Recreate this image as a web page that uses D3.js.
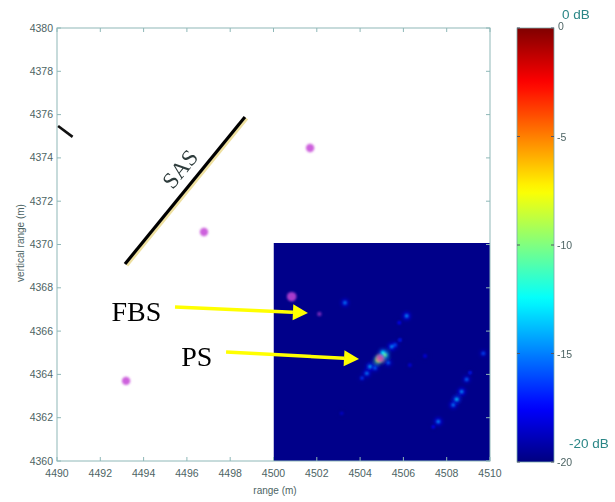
<!DOCTYPE html>
<html><head><meta charset="utf-8">
<script src="https://cdn.jsdelivr.net/npm/d3@7"></script>
<style>body{margin:0;background:#fff}svg{display:block}</style>
</head><body>
<svg id="c" width="615" height="502"></svg>
<script>
// ---- data ----
const xTicks = [4490,4492,4494,4496,4498,4500,4502,4504,4506,4508,4510];
const yTicks = [4360,4362,4364,4366,4368,4370,4372,4374,4376,4378,4380];
const cbTicks = [0,-5,-10,-15,-20];
const imageExtentX = [4500,4510];
const imageExtentY = [4360,4370.07];
const backgroundDb = -19.8;
// bright scatterers in the image (range, vertical range, level dB)
const spotX  = [4503.30,4506.15,4505.81,4505.84,4505.46,4504.92,4505.15,4504.46,4504.31,4505.30,4506.30,4507.00,4509.69,4509.08,4508.92,4508.69,4508.46,4508.30,4507.61,4507.38,4503.15,4504.69,4505.61,4504.09,4504.83,4505.05];
const spotY  = [4367.31,4366.70,4366.39,4365.59,4365.28,4364.74,4364.90,4364.36,4364.05,4364.54,4364.43,4364.85,4364.97,4364.08,4363.77,4363.20,4362.85,4362.59,4361.82,4361.58,4362.20,4364.30,4365.36,4363.83,4364.66,4365.00];
const spotDb = [-15,-14.5,-17.5,-17,-14.5,-4,-10,-14,-15,-15.5,-18,-18,-16,-17,-15.5,-14.5,-13.5,-15,-14.5,-17.5,-18.5,-15.5,-16,-16.5,-8,-12.5];
// magenta markers
const markX = [4493.19,4496.79,4501.69,4500.84,4502.12,4504.92];
const markY = [4363.70,4370.58,4374.46,4367.59,4366.79,4364.74];
const markR = [4.2,4.2,4.2,4.8,2.2,3.8];
// SAS array line and small segment
const sasLine = [[4493.14,4369.10],[4498.68,4375.89]];
const smallSeg = [[4490.05,4375.47],[4490.72,4374.97]];
// annotations
const labels = ["FBS","PS"];
const labelX = [4492.52,4495.74];
const labelY = [4366.45,4364.40];
const arrowFrom = [[4495.45,4367.11],[4497.81,4365.03]];
const arrowTo   = [[4501.59,4366.84],[4503.95,4364.71]];

// ---- scales ----
const svg = d3.select("#c");
const x = d3.scaleLinear().domain([4490,4510]).range([57,490]);
const y = d3.scaleLinear().domain([4360,4380]).range([461,28]);
const cb = d3.scaleLinear().domain([-20,0]).range([462,28]);
const clamp = v => Math.max(0, Math.min(1, v));
const jet = t => d3.rgb(255*clamp(1.5-Math.abs(4*t-3)),255*clamp(1.5-Math.abs(4*t-2)),255*clamp(1.5-Math.abs(4*t-1))).toString();
const color = d3.scaleSequential(jet).domain([-20,0]);

const defs = svg.append("defs");
const blur = defs.append("filter").attr("id","blur").attr("x","-100%").attr("y","-100%").attr("width","300%").attr("height","300%");
blur.append("feGaussianBlur").attr("stdDeviation",1.8);
const blur2 = defs.append("filter").attr("id","blur2").attr("x","-100%").attr("y","-100%").attr("width","300%").attr("height","300%");
blur2.append("feGaussianBlur").attr("stdDeviation",1.1);
defs.append("clipPath").attr("id","imgclip").append("rect")
  .attr("x",x(imageExtentX[0])).attr("y",y(imageExtentY[1]))
  .attr("width",x(imageExtentX[1])-x(imageExtentX[0])).attr("height",y(imageExtentY[0])-y(imageExtentY[1]));

// ---- image ----
const img = svg.append("g").attr("clip-path","url(#imgclip)");
img.append("rect").attr("x",x(imageExtentX[0])).attr("y",y(imageExtentY[1]))
  .attr("width",x(imageExtentX[1])-x(imageExtentX[0])).attr("height",y(imageExtentY[0])-y(imageExtentY[1]))
  .attr("fill",color(backgroundDb));
const spots = spotX.map((v,i)=>({x:v,y:spotY[i],db:spotDb[i]}));
img.append("g").attr("filter","url(#blur)").selectAll("circle").data(spots).join("circle")
  .attr("cx",d=>x(d.x)).attr("cy",d=>y(d.y)).attr("r",4.5)
  .attr("fill",d=>color(Math.max(-20,d.db-3))).attr("opacity",0.45);
img.append("g").attr("filter","url(#blur2)").selectAll("circle").data(spots).join("circle")
  .attr("cx",d=>x(d.x)).attr("cy",d=>y(d.y)).attr("r",1.9)
  .attr("fill",d=>color(d.db)).attr("opacity",0.85);

// ---- axes box ----
const axc = "#8fb8b8";
const g = svg.append("g");
g.append("rect").attr("x",x(4490)).attr("y",y(4380)).attr("width",x(4510)-x(4490)).attr("height",y(4360)-y(4380))
  .attr("fill","none").attr("stroke",axc).attr("stroke-width",1);
xTicks.forEach(t=>{
  g.append("line").attr("x1",x(t)).attr("x2",x(t)).attr("y1",y(4360)).attr("y2",y(4360)-4).attr("stroke",axc);
  g.append("line").attr("x1",x(t)).attr("x2",x(t)).attr("y1",y(4380)).attr("y2",y(4380)+4).attr("stroke",axc);
});
yTicks.forEach(t=>{
  g.append("line").attr("x1",x(4490)).attr("x2",x(4490)+4).attr("y1",y(t)).attr("y2",y(t)).attr("stroke",axc);
  g.append("line").attr("x1",x(4510)).attr("x2",x(4510)-4).attr("y1",y(t)).attr("y2",y(t)).attr("stroke",axc);
});
const tc = "#4d6464";
g.selectAll("text.xt").data(xTicks).join("text").attr("class","xt")
  .attr("x",d=>x(d)).attr("y",477).attr("text-anchor","middle")
  .attr("font-family","Liberation Sans, Arial").attr("font-size",10.5).attr("fill",tc).text(d=>d);
g.selectAll("text.yt").data(yTicks).join("text").attr("class","yt")
  .attr("x",53).attr("y",d=>y(d)+3.5).attr("text-anchor","end")
  .attr("font-family","Liberation Sans, Arial").attr("font-size",10.5).attr("fill",tc).text(d=>d);
g.append("text").attr("x",275).attr("y",494).attr("text-anchor","middle")
  .attr("font-family","Liberation Sans, Arial").attr("font-size",10).attr("fill",tc).text("range (m)");
g.append("text").attr("transform","translate(24,243) rotate(-90)").attr("text-anchor","middle")
  .attr("font-family","Liberation Sans, Arial").attr("font-size",10).attr("fill",tc).text("vertical range (m)");

// ---- markers ----
const marks = markX.map((v,i)=>({x:v,y:markY[i],r:markR[i]}));
svg.append("g").attr("filter","url(#blur2)").selectAll("circle").data(marks).join("circle")
  .attr("cx",d=>x(d.x)).attr("cy",d=>y(d.y)).attr("r",d=>d.r)
  .attr("fill","#c445d6").attr("opacity",(d,i)=>i===4?0.6:(i===5?0.7:0.85));

// ---- SAS line ----
svg.append("line").attr("x1",x(sasLine[0][0])+2).attr("y1",y(sasLine[0][1])+1.5)
  .attr("x2",x(sasLine[1][0])+2).attr("y2",y(sasLine[1][1])+1.5)
  .attr("stroke","#eee0a0").attr("stroke-width",3);
svg.append("line").attr("x1",x(sasLine[0][0])).attr("y1",y(sasLine[0][1]))
  .attr("x2",x(sasLine[1][0])).attr("y2",y(sasLine[1][1]))
  .attr("stroke","#000").attr("stroke-width",3.2);
svg.append("line").attr("x1",x(smallSeg[0][0])).attr("y1",y(smallSeg[0][1]))
  .attr("x2",x(smallSeg[1][0])).attr("y2",y(smallSeg[1][1]))
  .attr("stroke","#111").attr("stroke-width",2.6);
const ang = Math.atan2(y(sasLine[1][1])-y(sasLine[0][1]), x(sasLine[1][0])-x(sasLine[0][0]))*180/Math.PI;
svg.append("text").attr("transform",`translate(${x(4495.96)},${y(4373.26)}) rotate(${ang})`)
  .attr("text-anchor","middle").attr("font-family","Liberation Serif, Times New Roman").attr("font-size",23)
  .attr("fill","#2e3c3c").text("SAS");

// ---- annotations ----
svg.selectAll("text.lab").data(labels).join("text").attr("class","lab")
  .attr("x",(d,i)=>x(labelX[i])).attr("y",(d,i)=>y(labelY[i]))
  .attr("font-family","Liberation Serif, Times New Roman").attr("font-size",28).attr("fill","#000").text(d=>d);
arrowFrom.forEach((f,i)=>{
  const x1=x(f[0]),y1=y(f[1]),x2=x(arrowTo[i][0]),y2=y(arrowTo[i][1]);
  const a=Math.atan2(y2-y1,x2-x1), L=15, W=8;
  const bx=x2-L*Math.cos(a), by=y2-L*Math.sin(a);
  svg.append("line").attr("x1",x1).attr("y1",y1).attr("x2",bx).attr("y2",by).attr("stroke","#ffff00").attr("stroke-width",3.5);
  svg.append("path").attr("d",`M${x2},${y2}L${bx+W*Math.sin(a)},${by-W*Math.cos(a)}L${bx-W*Math.sin(a)},${by+W*Math.cos(a)}Z`).attr("fill","#ffff00");
});

// ---- colorbar ----
const grad = defs.append("linearGradient").attr("id","jet").attr("x1",0).attr("x2",0).attr("y1",1).attr("y2",0);
d3.range(0,1.0001,0.02).forEach(t=>grad.append("stop").attr("offset",t).attr("stop-color",jet(t)));
const cbx0=517, cbx1=554;
svg.append("rect").attr("x",cbx0).attr("y",cb(0)).attr("width",cbx1-cbx0).attr("height",cb(-20)-cb(0))
  .attr("fill","url(#jet)").attr("stroke","#7aa").attr("stroke-width",0.8);
cbTicks.forEach(t=>{
  svg.append("line").attr("x1",cbx0).attr("x2",cbx0+3).attr("y1",cb(t)).attr("y2",cb(t)).attr("stroke","#556");
  svg.append("line").attr("x1",cbx1).attr("x2",cbx1-3).attr("y1",cb(t)).attr("y2",cb(t)).attr("stroke","#556");
});
svg.selectAll("text.cbt").data(cbTicks).join("text").attr("class","cbt")
  .attr("x",d=>d===0?558:557).attr("y",d=>cb(d)+(d===0?2:4)).attr("font-family","Liberation Sans, Arial")
  .attr("font-size",10.5).attr("fill",tc).text(d=>d===0?"0":"-"+Math.abs(d));
svg.append("text").attr("x",562).attr("y",19).attr("font-family","Liberation Sans, Arial").attr("font-size",13.5)
  .attr("fill","#2a8686").text("0 dB");
svg.append("text").attr("x",569).attr("y",448).attr("font-family","Liberation Sans, Arial").attr("font-size",13.5)
  .attr("fill","#2a8686").text("-20 dB");
</script>
</body></html>
